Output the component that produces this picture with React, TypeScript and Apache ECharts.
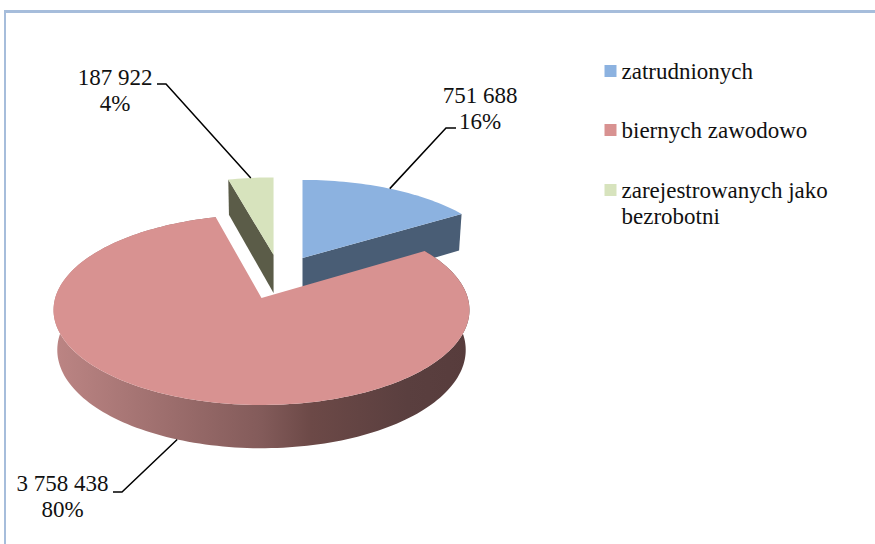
import React, { useEffect, useRef } from "react";
import * as echarts from "echarts";

const categories = ["zatrudnionych", "biernych zawodowo", "zarejestrowanych jako bezrobotni"];
const legendLabels = ["zatrudnionych", "biernych zawodowo", "\nzarejestrowanych jako\nbezrobotni"];
const values = [751688, 3758438, 187922];
const valueLabels = ["751 688", "3 758 438", "187 922"];
const percentLabels = ["16%", "80%", "4%"];

const topColors = ["#8cb2e0", "#d89291", "#d7e3bd"];
const wallColors = ["#495d75", "", "#5b5c48"];
const drawOrder = [2, 3, 1];

// perspective model of the tilted pie
const X0 = 261.5, Y0 = 298, A = 206.3, B = 93.5, K = 0.126, DEPTH = 40.5, M = 0.018;
// slice explosion (pie units) and radius
const offsets = [[0.21, 0.452], [0, 0], [0.062, 0.49]];
const radiiX = [1.03, 1, 1.05];
const radiiY = [1.05, 1, 1.05];
// label placement
const labelPos = [[480, 108], [62.5, 496], [115, 90]];
const elbows = [[[446, 128], [456, 128]], [[122, 492], [113, 492]], [[166, 84], [157, 84]]];
const legendTops = [53, 112, 146];

const FONT = "23px 'Liberation Serif'";
const total = values.reduce((a, b) => a + b, 0);

function project(i: number, x: number, y: number, z: number): number[] {
  const [ox, oy] = offsets[i];
  const w = 1 + K * (oy + y) + M * z;
  const apexX = X0 + (A * ox) / (1 + K * oy);
  return [apexX + (A * x) / w, Y0 + (-B * (oy + y) + DEPTH * z) / w];
}

function sliceAngles(i: number): number[] {
  let s = 0;
  for (let j = 0; j < i; j++) s += values[j];
  return [(s / total) * 360, ((s + values[i]) / total) * 360];
}

function rimPoint(i: number, deg: number, z: number): number[] {
  const r = (deg * Math.PI) / 180;
  return project(i, radiiX[i] * Math.sin(r), radiiY[i] * Math.cos(r), z);
}

function rim(i: number, a0: number, a1: number, z: number): number[][] {
  const pts: number[][] = [];
  const n = Math.max(2, Math.ceil((a1 - a0) / 1.5));
  for (let k = 0; k <= n; k++) pts.push(rimPoint(i, a0 + ((a1 - a0) * k) / n, z));
  return pts;
}

function makeRender(i: number) {
  return function () {
    const [a0, a1] = sliceAngles(i);
    const apexTop = project(i, 0, 0, 0);
    const apexBottom = project(i, 0, 0, 1);
    const children: any[] = [];

    if (i === 1) {
      const top = rim(i, a0, a1, 0);
      const bottom = rim(i, a0, a1, 1).reverse();
      children.push({
        type: "polygon",
        shape: { points: top.concat(bottom) },
        style: {
          fill: new echarts.graphic.LinearGradient(0, 0, 1, 0, [
            { offset: 0, color: "#bc8584" },
            { offset: 0.5, color: "#835b5a" },
            { offset: 0.62, color: "#6c4947" },
            { offset: 0.85, color: "#5a3f3f" },
            { offset: 1, color: "#573c3c" },
          ]),
        },
      });
    } else {
      const cut = i === 0 ? a1 : a0;
      children.push({
        type: "polygon",
        shape: { points: [apexTop, rimPoint(i, cut, 0), rimPoint(i, cut, 1), apexBottom] },
        style: { fill: wallColors[i] },
      });
    }

    children.push({
      type: "polygon",
      shape: { points: [apexTop, ...rim(i, a0, a1, 0)] },
      style: { fill: topColors[i] },
    });

    const mid = (a0 + a1) / 2;
    const anchor = rimPoint(i, mid, i === 1 ? 1 : 0);
    children.push({
      type: "polyline",
      shape: { points: [anchor, ...elbows[i]] },
      style: { stroke: "#000000", lineWidth: 1.5, fill: "none" },
    });
    children.push({
      type: "text",
      style: {
        text: valueLabels[i] + "\n" + percentLabels[i],
        x: labelPos[i][0],
        y: labelPos[i][1],
        align: "center",
        verticalAlign: "middle",
        font: FONT,
        lineHeight: 26,
        fill: "#111111",
      },
    });
    return { type: "group", children };
  };
}

export default function App() {
  const ref = useRef<HTMLDivElement>(null);
  useEffect(() => {
    document.body.style.margin = "0";
    const chart = echarts.init(ref.current!, null, { renderer: "svg" });
    chart.setOption({
      animation: false,
      backgroundColor: "#ffffff",
      legend: categories.map((name, i) => ({
        orient: "vertical",
        left: 599.5,
        top: legendTops[i],
        itemWidth: 12,
        itemHeight: 12,
        icon: "rect",
        selectedMode: false,
        data: [name],
        formatter: (n: string) => legendLabels[categories.indexOf(n)],
        textStyle: { fontFamily: "Liberation Serif", fontSize: 23, color: "#111111", lineHeight: 26 },
      })),
      graphic: [
        { type: "rect", shape: { x: 4, y: 10, width: 871, height: 3 }, style: { fill: "#a6bddb" }, silent: true },
        { type: "rect", shape: { x: 4, y: 10, width: 2, height: 534 }, style: { fill: "#a6bddb" }, silent: true },
      ],
      series: categories.map((name, i) => ({
        type: "custom",
        name,
        coordinateSystem: "none",
        z: drawOrder[i],
        silent: true,
        itemStyle: { color: topColors[i] },
        data: [[values[i]]],
        renderItem: makeRender(i),
      })),
    });
    return () => chart.dispose();
  }, []);
  return <div ref={ref} style={{ width: 875, height: 544 }} />;
}
